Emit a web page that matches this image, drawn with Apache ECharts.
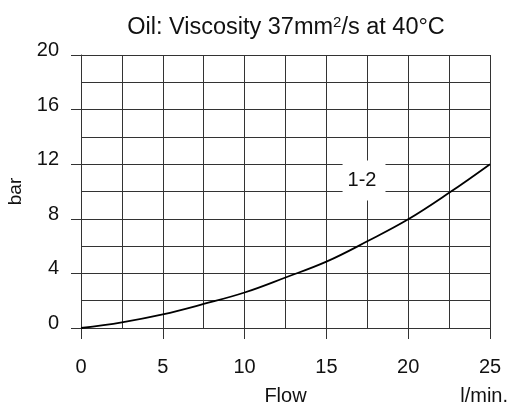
<!DOCTYPE html>
<html><head><meta charset="utf-8">
<script src="https://cdn.jsdelivr.net/npm/echarts@6/dist/echarts.min.js"></script>
<style>html,body{margin:0;padding:0;background:#fff}#c{width:509px;height:405px}</style>
</head><body><div id="c"></div>
<script>
const flow = [0, 2.5, 5, 7.5, 10, 12.5, 15, 17.5, 20, 22.5, 25];
const pressure = [0, 0.42, 1.0, 1.76, 2.6, 3.7, 4.86, 6.35, 7.96, 9.9, 12];
const curveName = '1-2';
const curveLabelAt = [17.3, 10.8];
const xTicks = [0, 5, 10, 15, 20, 25];
const yTicks = [0, 4, 8, 12, 16, 20];

const F = 'Liberation Sans, Arial, sans-serif';
const gridColor = '#333';
const chart = echarts.init(document.getElementById('c'), null, {renderer: 'canvas'});
chart.setOption({
  animation: false,
  backgroundColor: '#fff',
  title: {
    text: '{n|Oil: Viscosity 37mm}{s|2}{n|/s at 40°C}',
    left: 281, top: 10, textAlign: 'center',
    textStyle: {fontFamily: F, fontSize: 23.5, fontWeight: 'normal', color: '#111',
      rich: {
        n: {fontFamily: F, fontSize: 23.5, color: '#111'},
        s: {fontFamily: F, fontSize: 15, color: '#111', verticalAlign: 'top', padding: [0,0,10,0]}}}
  },
  grid: {left: 81, right: 19, top: 55, bottom: 77, containLabel: false, outerBoundsMode: 'none'},
  xAxis: {
    type: 'value', min: xTicks[0], max: xTicks[xTicks.length-1], interval: 5,
    name: 'Flow', nameLocation: 'middle', nameGap: 58,
    nameTextStyle: {fontFamily: F, fontSize: 20, color: '#111', verticalAlign: 'top'},
    axisLine: {show: true, lineStyle: {color: gridColor, width: 1}},
    axisTick: {show: true, inside: false, length: 11, lineStyle: {color: gridColor, width: 1}},
    axisLabel: {fontFamily: F, fontSize: 20, color: '#111', margin: 29},
    splitLine: {show: true, lineStyle: {color: gridColor, width: 1}},
    minorTick: {show: false, splitNumber: 2},
    minorSplitLine: {show: true, lineStyle: {color: gridColor, width: 1}}
  },
  yAxis: {
    type: 'value', min: yTicks[0], max: yTicks[yTicks.length-1], interval: 4,
    name: 'bar', nameLocation: 'middle', nameGap: 56, nameRotate: 90,
    nameTextStyle: {fontFamily: F, fontSize: 19, color: '#111'},
    axisLine: {show: true, lineStyle: {color: gridColor, width: 1}},
    axisTick: {show: true, inside: false, length: 10, lineStyle: {color: gridColor, width: 1}},
    axisLabel: {fontFamily: F, fontSize: 20, color: '#111', margin: 22,
      verticalAlign: 'bottom', lineHeight: 9},
    splitLine: {show: true, lineStyle: {color: gridColor, width: 1}},
    minorTick: {show: false, splitNumber: 2},
    minorSplitLine: {show: true, lineStyle: {color: gridColor, width: 1}}
  },
  graphic: [{
    type: 'text', right: 1, top: 386,
    style: {text: 'l/min.', font: '20px ' + F, fill: '#111'}
  }],
  series: [{
    type: 'line', data: flow.map((x, i) => [x, pressure[i]]),
    smooth: 0.4, symbol: 'none', lineStyle: {color: '#000', width: 1.8}, z: 3
  }, {
    type: 'scatter', data: [curveLabelAt], symbolSize: 1, z: 4,
    itemStyle: {opacity: 1, color: '#fff'},
    label: {show: true, position: 'inside', formatter: curveName, opacity: 1,
      fontFamily: F, fontSize: 20, color: '#111', backgroundColor: '#fff',
      padding: [13, 9, 7, 5]}
  }]
});
</script></body></html>
